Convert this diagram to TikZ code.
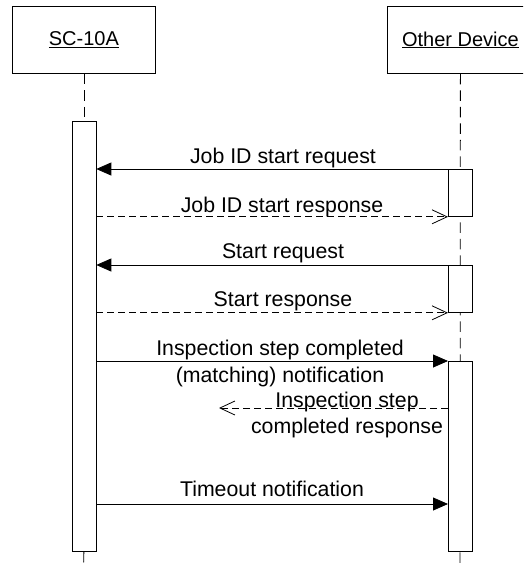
\documentclass[tikz,border=0pt]{standalone}
\usepackage{fontspec}
\setmainfont{Liberation Sans}
\usetikzlibrary{arrows.meta}
\begin{document}
\begin{tikzpicture}[x=1pt,y=-1pt,line width=0.8pt,
  lifeline/.style={dash pattern=on 10.5pt off 6pt},
  headbox/.style={draw,fill=white,minimum height=67pt,inner sep=0pt,anchor=north west,font=\fontsize{20}{24}\selectfont},
  actbox/.style={draw,fill=white,minimum width=24pt,inner sep=0pt,anchor=north west},
  syncmsg/.style={-{Triangle[length=15pt,width=13pt]}},
  replymsg/.style={dash pattern=on 7pt off 4pt,-{Straight Barb[length=15pt,width=14pt]}},
  lbl/.style={anchor=base,inner sep=0pt,font=\fontsize{21.3}{26}\selectfont}
]
\clip (0,0) rectangle (523,568);
\fill[white] (0,0) rectangle (523,568);

% headers
\node[headbox,minimum width=143pt] (sc) at (12,6) {\underline{SC-10A}};
\node[headbox,minimum width=146pt] (od) at (387,6) {\underline{Other Device}};

% lifeline ends
\coordinate (scend) at (83.5,568);
\coordinate (odend) at (460,568);

% lifelines
\draw[lifeline] (od.south) -- (odend);

% activations
\node[actbox,minimum height=430pt] (la) at (71.5,121) {};
\draw[lifeline] (sc.south) -- (la.north);
\draw[lifeline] (la.south) -- (scend);
\node[actbox,minimum height=47pt] (ra1) at (448,169) {};
\node[actbox,minimum height=47pt] (ra2) at (448,265) {};
\node[actbox,minimum height=190pt] (ra3) at (448,361) {};

% messages
\draw[syncmsg] (ra1.north west) -- (la.east |- ra1.north west);
\node[lbl] (t1) at (283,163.3) {Job ID start request};

\draw[replymsg] (la.east |- ra1.south west) -- (ra1.south west);
\node[lbl] (t2) at (282,212.7) {Job ID start response};

\draw[syncmsg] (ra2.north west) -- (la.east |- ra2.north west);
\node[lbl] (t3) at (283,258.3) {Start request};

\draw[replymsg] (la.east |- ra2.south west) -- (ra2.south west);
\node[lbl] (t4) at (283,306.7) {Start response};

\draw[syncmsg] (la.east |- ra3.north west) -- (ra3.north west);
\node[lbl] (t5a) at (280,355.7) {Inspection step completed};
\node[lbl] (t5b) at (280,382.7) {(matching) notification};

\coordinate (r6s) at (448,408);
\coordinate (r6e) at (219,408);
\draw[replymsg] (r6s) -- (r6e);
\node[lbl] (t6a) at (347,407.3) {Inspection step};
\node[lbl] (t6b) at (347,433.3) {completed response};

\coordinate (m7) at (448,504);
\draw[syncmsg] (la.east |- m7) -- (m7);
\node[lbl] (t7) at (272,496.7) {Timeout notification};
\end{tikzpicture}
\end{document}
